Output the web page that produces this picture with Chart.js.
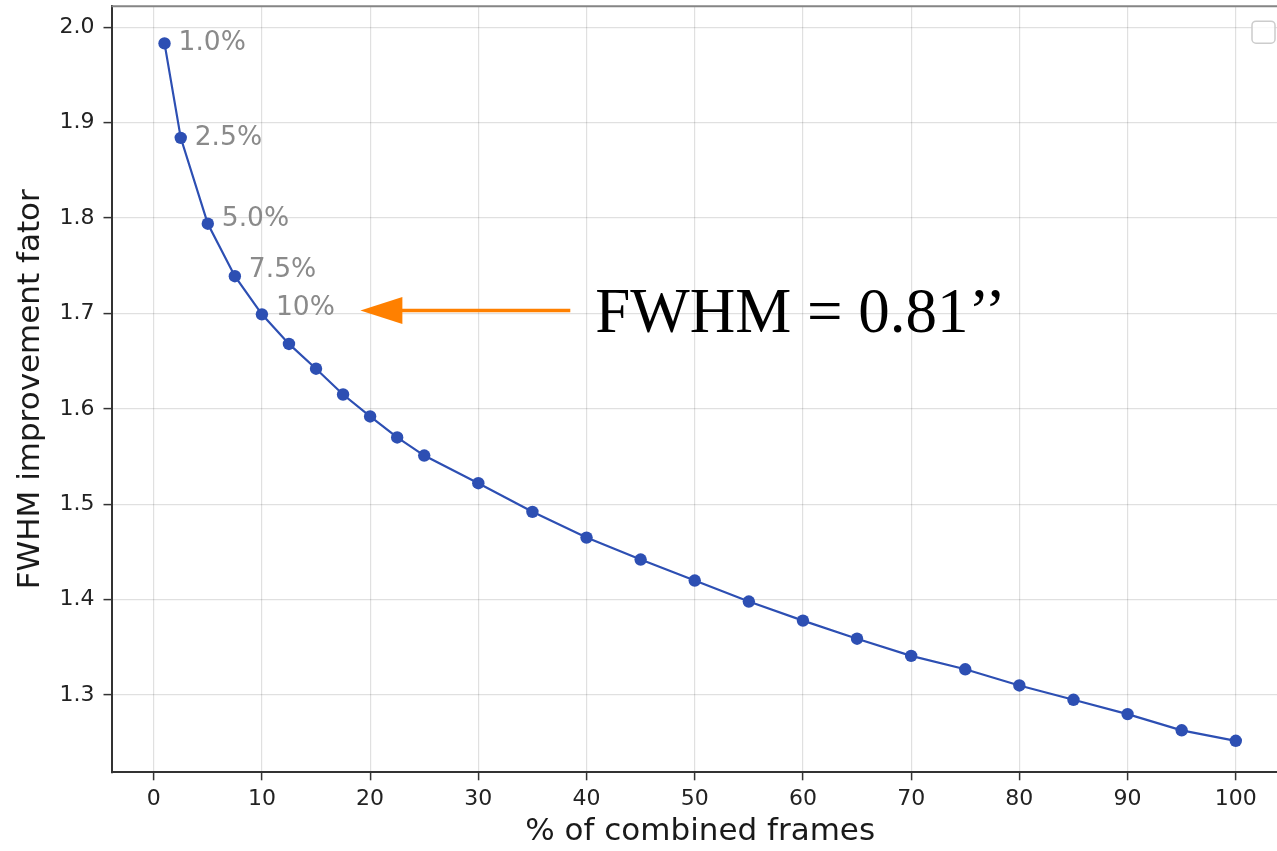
<!DOCTYPE html>
<html>
<head>
<meta charset="utf-8">
<title>FWHM improvement</title>
<script src="https://cdn.jsdelivr.net/npm/chart.js@4.4.1/dist/chart.umd.min.js"></script>
<style>
  html, body { margin: 0; padding: 0; background: #fff; overflow: hidden; }
  #wrap { width: 1277px; height: 851px; overflow: hidden; }
  canvas { display: block; }
</style>
</head>
<body>
<div id="wrap"><canvas id="fwhm" width="1295" height="851"></canvas></div>
<script>
// fraction of frames kept (%) and resulting FWHM gain
const framesPct = [1, 2.5, 5, 7.5, 10, 12.5, 15, 17.5, 20, 22.5, 25, 30, 35, 40, 45, 50, 55, 60, 65, 70, 75, 80, 85, 90, 95, 100];
const fwhmGain = [1.983, 1.884, 1.794, 1.739, 1.699, 1.668, 1.642, 1.615, 1.592, 1.570, 1.551, 1.522, 1.492, 1.465, 1.442, 1.420, 1.398, 1.378, 1.359, 1.341, 1.327, 1.310, 1.295, 1.280, 1.263, 1.252];

const xTicks = [0, 10, 20, 30, 40, 50, 60, 70, 80, 90, 100];
const yTicks = [1.3, 1.4, 1.5, 1.6, 1.7, 1.8, 1.9, 2.0];

// text tags on the first few points
const pointLabels = ['1.0%', '2.5%', '5.0%', '7.5%', '10%'];
const labelNudge = [0, 0, -5, -6, -6];

// arrow + note pointing at the 10% point
const arrowFrom = { x: 38.5, y: 1.703 };
const arrowTo = { x: 19.1, y: 1.703 };
const noteText = 'FWHM = 0.81\u2019\u2019';
const notePos = { x: 40.8, y: 1.680 };

const BLUE = '#2d4fb3';
const ORANGE = '#ff8000';
const SANS = '"DejaVu Sans", sans-serif';

const extras = {
    id: 'extras',
    afterDatasetsDraw(chart) {
        const { ctx, chartArea: a, scales: { x, y } } = chart;
        const pts = chart.getDatasetMeta(0).data;
        ctx.save();

        ctx.font = '26.5px ' + SANS;
        ctx.fillStyle = '#8a8a8a';
        ctx.textBaseline = 'middle';
        ctx.textAlign = 'left';
        pointLabels.forEach((t, i) => ctx.fillText(t, pts[i].x + 14, pts[i].y + labelNudge[i]));

        // arrow
        const x0 = x.getPixelForValue(arrowFrom.x);
        const x1 = x.getPixelForValue(arrowTo.x);
        const ya = y.getPixelForValue(arrowFrom.y);
        ctx.strokeStyle = ORANGE;
        ctx.fillStyle = ORANGE;
        ctx.lineWidth = 3.5;
        ctx.beginPath();
        ctx.moveTo(x0, ya);
        ctx.lineTo(x1 + 38, ya);
        ctx.stroke();
        ctx.beginPath();
        ctx.moveTo(x1, ya);
        ctx.lineTo(x1 + 42, ya - 13.5);
        ctx.lineTo(x1 + 42, ya + 13.5);
        ctx.closePath();
        ctx.fill();

        ctx.fillStyle = '#000';
        ctx.font = '63px "Liberation Serif", serif';
        ctx.textBaseline = 'alphabetic';
        ctx.fillText(noteText, x.getPixelForValue(notePos.x), y.getPixelForValue(notePos.y));

        // top frame line
        ctx.strokeStyle = '#858585';
        ctx.lineWidth = 2;
        ctx.beginPath();
        ctx.moveTo(a.left, a.top);
        ctx.lineTo(a.right, a.top);
        ctx.stroke();

        // empty legend frame
        ctx.strokeStyle = '#cccccc';
        ctx.fillStyle = 'rgba(255,255,255,0.8)';
        ctx.lineWidth = 1.5;
        ctx.beginPath();
        ctx.roundRect(1252, a.top + 15, 23, 22, 4);
        ctx.fill();
        ctx.stroke();

        ctx.restore();
    }
};

new Chart(document.getElementById('fwhm'), {
    type: 'line',
    data: {
        datasets: [{
            data: framesPct.map((v, i) => ({ x: v, y: fwhmGain[i] })),
            borderColor: BLUE,
            backgroundColor: BLUE,
            borderWidth: 2.2,
            pointRadius: 6.2,
            pointBorderWidth: 0,
            tension: 0
        }]
    },
    options: {
        responsive: false,
        animation: false,
        layout: { padding: { top: 6, right: 1.5, left: 0, bottom: 0 } },
        plugins: { legend: { display: false }, tooltip: { enabled: false } },
        scales: {
            x: {
                type: 'linear',
                min: -3.9,
                max: 104.9,
                afterBuildTicks: s => { s.ticks = xTicks.map(v => ({ value: v })); },
                afterFit: s => { s.height = 78.7; s.paddingLeft = 0; s.paddingRight = 0; },
                grid: { color: 'rgba(0,0,0,0.12)', lineWidth: 1.2, tickLength: 8, tickColor: '#333', tickWidth: 1.5 },
                border: { color: '#333', width: 2 },
                ticks: { color: '#222', font: { family: SANS, size: 22 }, padding: 6, maxRotation: 0 },
                title: { display: true, text: '% of combined frames', color: '#1a1a1a', font: { family: SANS, size: 31 }, padding: { top: 0, bottom: 0 } }
            },
            y: {
                min: 1.219,
                max: 2.022,
                afterBuildTicks: s => { s.ticks = yTicks.map(v => ({ value: v })); },
                afterFit: s => { s.width = 111.5; s.paddingTop = 0; s.paddingBottom = 0; },
                grid: { color: 'rgba(0,0,0,0.12)', lineWidth: 1.2, tickLength: 8, tickColor: '#333', tickWidth: 1.5 },
                border: { color: '#333', width: 2 },
                ticks: { color: '#222', font: { family: SANS, size: 22 }, padding: 9, callback: v => v.toFixed(1) },
                title: { display: true, text: 'FWHM improvement fator', color: '#1a1a1a', font: { family: SANS, size: 31 }, padding: { top: 12, bottom: 0 } }
            }
        }
    },
    plugins: [extras]
});
</script>
</body>
</html>
